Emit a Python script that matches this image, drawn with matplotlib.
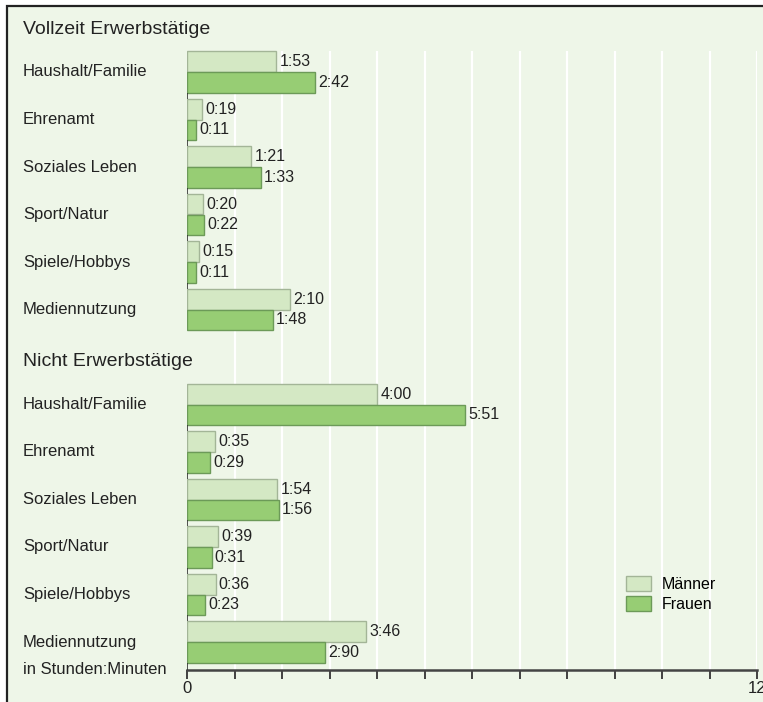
import matplotlib

matplotlib.use("Agg")
import matplotlib.pyplot as plt
import matplotlib.transforms as mtransforms
from matplotlib.patches import Rectangle, Patch

plt.rcParams["font.family"] = ["Liberation Sans", "DejaVu Sans"]

# Daten (Minuten pro Tag)
group_titles = ["Vollzeit Erwerbstätige", "Nicht Erwerbstätige"]
categories = ["Haushalt/Familie", "Ehrenamt", "Soziales Leben",
              "Sport/Natur", "Spiele/Hobbys", "Mediennutzung"]

vollzeit_maenner = [113, 19, 81, 20, 15, 130]
vollzeit_frauen = [162, 11, 93, 22, 11, 108]
nicht_maenner = [240, 35, 114, 39, 36, 226]
nicht_frauen = [351, 29, 116, 31, 23, 174]

vollzeit_maenner_lbl = ["1:53", "0:19", "1:21", "0:20", "0:15", "2:10"]
vollzeit_frauen_lbl = ["2:42", "0:11", "1:33", "0:22", "0:11", "1:48"]
nicht_maenner_lbl = ["4:00", "0:35", "1:54", "0:39", "0:36", "3:46"]
nicht_frauen_lbl = ["5:51", "0:29", "1:56", "0:31", "0:23", "2:90"]

unit_label = "in Stunden:Minuten"
legend_labels = ["Männer", "Frauen"]

c_m, c_m_edge = "#d4e8c4", "#a3b597"
c_f, c_f_edge = "#97cd74", "#6c9a58"
bg = "#eef6e8"
txt = "#222222"

W, H = 763, 702
fig = plt.figure(figsize=(W / 100, H / 100), dpi=100, facecolor="white")

# Rahmen mit Hintergrund
fig.patches.append(Rectangle((7 / W, -0.1), 1.2, (1 - 6 / H) + 0.1,
                             transform=fig.transFigure, facecolor=bg,
                             edgecolor="#222222", linewidth=1.6, zorder=-10))

ax_left, ax_right = 187 / W, 757 / W
ax_bottom, ax_top = 1 - 670 / H, 1 - 6 / H
ax = fig.add_axes([ax_left, ax_bottom, ax_right - ax_left, ax_top - ax_bottom])
ax.set_facecolor("none")

row_top = -66 / 47.5
row_bottom = 598 / 47.5
ax.set_xlim(0, 12)
ax.set_ylim(row_bottom, row_top)

bh = 0.44
groups = [
    (group_titles[0], 0, vollzeit_maenner, vollzeit_frauen,
     vollzeit_maenner_lbl, vollzeit_frauen_lbl),
    (group_titles[1], 7, nicht_maenner, nicht_frauen,
     nicht_maenner_lbl, nicht_frauen_lbl),
]

ax.vlines(range(1, 13), -bh, row_bottom, color="white", lw=1.6, zorder=0)

lab_tr = mtransforms.blended_transform_factory(fig.transFigure, ax.transData)

for title, start, men, women, men_lbl, women_lbl in groups:
    rows = [start + i for i in range(len(categories))]
    men_h = [m / 60 for m in men]
    women_h = [w / 60 for w in women]
    ax.barh([r - bh / 2 for r in rows], men_h, height=bh, color=c_m,
            edgecolor=c_m_edge, linewidth=1.0, zorder=2)
    ax.barh([r + bh / 2 for r in rows], women_h, height=bh, color=c_f,
            edgecolor=c_f_edge, linewidth=1.0, zorder=2)
    for r, v, s in zip(rows, men_h, men_lbl):
        ax.text(v + 0.07, r - bh / 2, s, va="center", ha="left",
                fontsize=11.5, color=txt)
    for r, v, s in zip(rows, women_h, women_lbl):
        ax.text(v + 0.07, r + bh / 2, s, va="center", ha="left",
                fontsize=11.5, color=txt)
    for r, cat in zip(rows, categories):
        ax.text(23 / W, r, cat, transform=lab_tr, va="center", ha="left",
                fontsize=12, color=txt)
    ax.text(23 / W, start - 0.9, title, transform=lab_tr, va="center",
            ha="left", fontsize=14, color=txt)
    # kleine Trennstriche an der Nulllinie
    ax.vlines([0] * (len(rows) - 1), [r + bh for r in rows[:-1]],
              [r + 1 - bh for r in rows[:-1]], color="#333333", lw=1.2, zorder=3)

ax.vlines(0, 12 + bh, row_bottom, color="#333333", lw=1.2, zorder=3)
ax.text(23 / W, row_bottom, unit_label, transform=lab_tr, va="center",
        ha="left", fontsize=12, color=txt)

for side in ["top", "right", "left"]:
    ax.spines[side].set_visible(False)
ax.spines["bottom"].set_color("#444444")
ax.spines["bottom"].set_linewidth(1.8)
ax.set_yticks([])
ax.set_xticks(range(13))
ax.set_xticklabels(["0"] + [""] * 11 + ["12"])
ax.tick_params(axis="x", direction="out", length=6.5, width=1.3,
               color="#333333", labelsize=12, labelcolor=txt, pad=1.5)

handles = [Patch(facecolor=c_m, edgecolor=c_m_edge, linewidth=1.0),
           Patch(facecolor=c_f, edgecolor=c_f_edge, linewidth=1.0)]
fig.legend(handles, legend_labels, loc="upper left",
           bbox_to_anchor=(626 / W, 1 - 576 / H), frameon=False,
           fontsize=11.5, handlelength=1.55, handleheight=1.05,
           handletextpad=0.7, labelspacing=0.25, borderpad=0,
           borderaxespad=0)

fig.savefig("out.png", dpi=100, facecolor="white")
